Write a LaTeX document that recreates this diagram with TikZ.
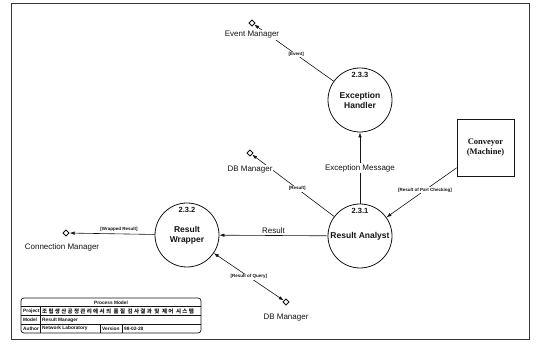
\documentclass[tikz,border=0pt]{standalone}
\usepackage{fontspec}
\setmainfont{Liberation Sans}
\newfontfamily\convfont{Liberation Serif}
\newfontfamily\krfont[LetterSpace=24]{Noto Sans CJK KR}
\usetikzlibrary{arrows.meta,shapes.geometric}
\definecolor{DfdInk}{RGB}{20,20,20}
\definecolor{DfdFrame}{RGB}{55,55,55}
\tikzset{
  dfd/process/.style={
    circle,
    draw=DfdInk,
    line width=0.8pt,
    fill=white,
    minimum size=64pt,
    inner sep=0pt,
    align=center,
    text=DfdInk,
    font=\fontsize{8.5}{10}\selectfont\bfseries
  },
  dfd/num/.style={font=\fontsize{7.5}{8}\selectfont\bfseries, text=DfdInk, inner sep=0pt},
  dfd/entity/.style={
    diamond,
    draw=DfdInk,
    line width=0.9pt,
    fill=white,
    minimum size=6.5pt,
    inner sep=0pt
  },
  dfd/machine/.style={
    rectangle,
    draw=DfdInk,
    line width=0.7pt,
    fill=white,
    minimum width=57pt,
    minimum height=57pt,
    align=center,
    text=DfdInk,
    font=\convfont\fontsize{8.5}{10}\selectfont\bfseries
  },
  dfd/name/.style={font=\fontsize{8}{9}\selectfont, text=DfdInk, fill=white, inner sep=1pt},
  dfd/label/.style={font=\fontsize{8}{9}\selectfont, text=DfdInk, fill=white, inner sep=1pt},
  dfd/data/.style={font=\fontsize{4.5}{5}\selectfont\bfseries, text=DfdInk, fill=white, inner sep=0.8pt},
  dfd/flow/.style={line width=0.6pt, draw=DfdInk},
  dfd/tip/.style={-{Latex[length=5pt,width=3.5pt]}},
  dfd/cell/.style={font=\fontsize{4.8}{5}\selectfont\bfseries, text=DfdInk, inner sep=0pt, anchor=west}
}

\begin{document}
\begin{tikzpicture}[x=1pt,y=-1pt]
  \useasboundingbox (0,0) rectangle (536,344);
  \draw[DfdFrame, line width=1pt] (11,4) rectangle (529,340);

  % processes
  \node[dfd/process, label={[dfd/num,anchor=north,yshift=-4pt]north:2.3.1}] (ana) at (360,236) {Result Analyst};
  \node[dfd/process, label={[dfd/num,anchor=north,yshift=-4pt]north:2.3.3}] (exc) at (360,100) {Exception\\Handler};
  \node[dfd/process, label={[dfd/num,anchor=north,yshift=-4pt]north:2.3.2}] (wrap) at (187,235) {Result\\Wrapper};
  \node[dfd/machine] (conv) at (485.5,147.5) {Conveyor\\(Machine)};

  % external managers
  \node[dfd/entity] (evt) at (252,23) {};
  \node[dfd/entity] (dbres) at (250,153) {};
  \node[dfd/entity] (conn) at (66,233) {};
  \node[dfd/entity] (dbqry) at (286,302) {};

  \draw[dfd/flow, dfd/tip] (ana) -- (exc) node[dfd/label, pos=0.5] {Exception Message};
  \draw[dfd/flow, dfd/tip] (ana) -- (wrap) node[dfd/label, pos=0.5, above, yshift=1pt] {Result};
  \draw[dfd/flow, dfd/tip] (conv) -- (ana) node[dfd/data, pos=0.45] {[Result of Part Checking]};
  \draw[dfd/flow, dfd/tip] (ana) -- (dbres) node[dfd/data, pos=0.45] {[Result]};
  \draw[dfd/flow, dfd/tip] (exc) -- (evt) node[dfd/data, pos=0.47] {[Event]};
  \draw[dfd/flow, dfd/tip] (wrap) -- (conn) node[dfd/data, pos=0.42, above, yshift=1pt] {[Wrapped Result]};
  \draw[dfd/flow, {Latex[length=5pt,width=3.5pt]}-{Latex[length=5pt,width=3.5pt]}] (wrap) -- (dbqry)
    node[dfd/data, pos=0.5] {[Result of Query]};

  \node[dfd/name] (evtname) at (252,35) {Event Manager};
  \node[dfd/name] (dbresname) at (250,170) {DB Manager};
  \node[dfd/name] (connname) at (62,247) {Connection Manager};
  \node[dfd/name] (dbqryname) at (286,318) {DB Manager};

  % title block
  \draw[DfdInk, line width=0.7pt, rounded corners=3pt] (21,298) rectangle (201,333);
  \draw[DfdInk, line width=0.5pt] (21,306.75) -- (201,306.75) (21,315.5) -- (201,315.5)
    (21,324.25) -- (201,324.25) (40,306.75) -- (40,333) (100,324.25) -- (100,333) (122,324.25) -- (122,333);
  \node[dfd/cell, anchor=center] (tbhead) at (111,302.4) {Process Model};
  \node[dfd/cell] (tbproj) at (23,311.1) {Project};
  \node[dfd/cell] (tbprojv) at (42,311.1) {\krfont\fontsize{5.5}{6}\selectfont 조립생산공정관리에서의 품질 검사결과 및 제어 시스템};
  \node[dfd/cell] (tbmodel) at (23,319.9) {Model};
  \node[dfd/cell] (tbmodelv) at (42,319.9) {Result Manager};
  \node[dfd/cell] (tbauth) at (23,328.6) {Author};
  \node[dfd/cell] (tbauthv) at (42,328.6) {Network Laboratory};
  \node[dfd/cell] (tbver) at (102,328.6) {Version};
  \node[dfd/cell] (tbverv) at (124,328.6) {98-02-28};
\end{tikzpicture}
\end{document}
